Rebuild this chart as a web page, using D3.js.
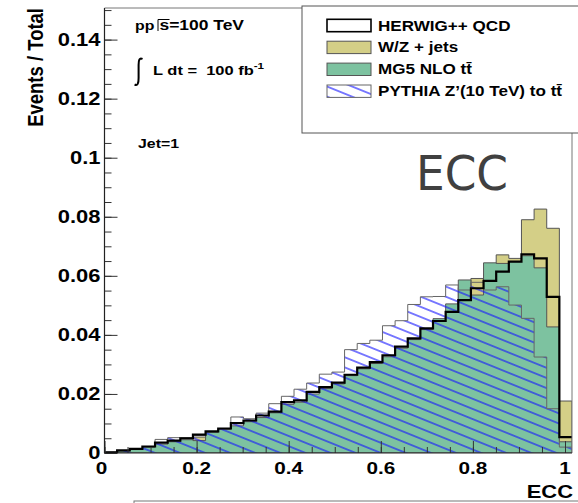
<!DOCTYPE html>
<html>
<head>
<meta charset="utf-8">
<script src="https://cdn.jsdelivr.net/npm/d3@7"></script>
<style>
  html, body { margin: 0; padding: 0; background: #fff; }
  svg { display: block; }
</style>
</head>
<body>
<script>
// ECC distributions, normalised to unit area (37 equal bins from 0 to the axis end)
const xAxisMax = 1.0152;
const yAxisMax = 0.1507;

const qcdValues = [0.0002, 0.0009, 0.0014, 0.0022, 0.0035, 0.0042, 0.0050, 0.0062, 0.0073, 0.0083,
                   0.0101, 0.0110, 0.0127, 0.0140, 0.0172, 0.0178, 0.0207, 0.0223, 0.0238, 0.0265,
                   0.0289, 0.0308, 0.0331, 0.0360, 0.0388, 0.0422, 0.0447, 0.0478, 0.0518, 0.0558,
                   0.0583, 0.0614, 0.0648, 0.0673, 0.0659, 0.0529, 0.0054];
const wzValues = [0.0001, 0.0005, 0.0010, 0.0017, 0.0025, 0.0032, 0.0038, 0.0054, 0.0058, 0.0066,
                  0.0076, 0.0088, 0.0098, 0.0110, 0.0135, 0.0145, 0.0168, 0.0182, 0.0200, 0.0222,
                  0.0245, 0.0268, 0.0290, 0.0315, 0.0345, 0.0378, 0.0415, 0.0465, 0.0560, 0.0591,
                  0.0605, 0.0671, 0.0659, 0.0790, 0.0826, 0.0761, 0.0176];
const ttbarValues = [0.0002, 0.0007, 0.0012, 0.0020, 0.0030, 0.0038, 0.0045, 0.0042, 0.0070, 0.0080,
                     0.0092, 0.0106, 0.0120, 0.0136, 0.0165, 0.0172, 0.0200, 0.0218, 0.0234, 0.0262,
                     0.0285, 0.0303, 0.0326, 0.0355, 0.0384, 0.0418, 0.0455, 0.0505, 0.0586, 0.0535,
                     0.0644, 0.0642, 0.0648, 0.0668, 0.0627, 0.0427, 0.0038];
const zprimeValues = [0.0003, 0.0008, 0.0013, 0.0022, 0.0046, 0.0052, 0.0052, 0.0060, 0.0072, 0.0082,
                      0.0122, 0.0116, 0.0135, 0.0167, 0.0192, 0.0216, 0.0237, 0.0267, 0.0274, 0.0350,
                      0.0371, 0.0382, 0.0431, 0.0448, 0.0503, 0.0529, 0.0530, 0.0569, 0.0552, 0.0578,
                      0.0552, 0.0563, 0.0501, 0.0456, 0.0325, 0.0150, 0.0020];

const yTickValues = [0, 0.02, 0.04, 0.06, 0.08, 0.1, 0.12, 0.14];
const yTickLabels = ["0", "0.02", "0.04", "0.06", "0.08", "0.1", "0.12", "0.14"];
const xTickValues = [0, 0.2, 0.4, 0.6, 0.8, 1];
const xTickLabels = ["0", "0.2", "0.4", "0.6", "0.8", "1"];
const yMinorStep = 0.005;
const xMinorStep = 0.05;

const legendLabels = ["HERWIG++ QCD", "W/Z + jets", "MG5 NLO t", "PYTHIA Z\u2019(10 TeV) to t"];

// ---------------------------------------------------------------------------
const W = 578, H = 503;
const frame = { left: 104.5, right: 572, top: 8, bottom: 453 };
const STRETCH = 1.22;               // ROOT text is drawn horizontally widened
const ROOT_FONT = "'Liberation Sans', Arial, Helvetica, sans-serif";

const colWZ = "#d4cf87";
const colTT = "#7dc2a0";
const colHatch = "#1414ff";
const colEdge = "#555";

const svg = d3.select("body").append("svg").attr("width", W).attr("height", H);

const x = d3.scaleLinear().domain([0, xAxisMax]).range([frame.left, frame.right]);
const y = d3.scaleLinear().domain([0, yAxisMax]).range([frame.bottom, frame.top]);

const nBins = qcdValues.length;
const binEdges = d3.range(nBins + 1).map(i => i * xAxisMax / nBins);

const defs = svg.append("defs");
defs.append("clipPath").attr("id", "plotClip")
  .append("rect")
  .attr("x", frame.left).attr("y", frame.top)
  .attr("width", frame.right - frame.left).attr("height", frame.bottom - frame.top);

// diagonal "\\\\" hatch used for the Z' sample
const hatch = defs.append("pattern")
  .attr("id", "hatch")
  .attr("patternUnits", "userSpaceOnUse")
  .attr("width", 24).attr("height", 9.4)
  .attr("patternTransform", "rotate(22)");
hatch.append("line")
  .attr("x1", -2).attr("x2", 26).attr("y1", 4.7).attr("y2", 4.7)
  .attr("stroke", colHatch).attr("stroke-width", 1.1);

const line = d3.line().x(d => x(d[0])).y(d => y(d[1]));

function stepPoints(vals, closed) {
  const pts = [[binEdges[0], 0]];
  vals.forEach((v, i) => { pts.push([binEdges[i], v]); pts.push([binEdges[i + 1], v]); });
  if (closed) pts.push([binEdges[nBins], 0]);
  return pts;
}

const plot = svg.append("g").attr("clip-path", "url(#plotClip)");

// W/Z + jets
plot.append("path").attr("d", line(stepPoints(wzValues, true)) + "Z")
  .attr("fill", colWZ).attr("stroke", colEdge).attr("stroke-width", 1);
// MG5 NLO ttbar
plot.append("path").attr("d", line(stepPoints(ttbarValues, true)) + "Z")
  .attr("fill", colTT).attr("stroke", colEdge).attr("stroke-width", 1);
// PYTHIA Z'
plot.append("path").attr("d", line(stepPoints(zprimeValues, true)) + "Z")
  .attr("fill", "url(#hatch)").attr("stroke", "#666").attr("stroke-width", 1);
// HERWIG++ QCD outline
plot.append("path").attr("d", line(stepPoints(qcdValues, false)))
  .attr("fill", "none").attr("stroke", "#000").attr("stroke-width", 2.2);

// ---------------------------------------------------------------------------
// frame and ticks
svg.append("line").attr("x1", frame.left).attr("x2", frame.right)
  .attr("y1", frame.top).attr("y2", frame.top).attr("stroke", "#777").attr("stroke-width", 1);
svg.append("line").attr("x1", frame.right).attr("x2", frame.right)
  .attr("y1", frame.top).attr("y2", frame.bottom).attr("stroke", "#777").attr("stroke-width", 1);

const yMinor = d3.range(0, yAxisMax + 1e-9, yMinorStep);
const xMinor = d3.range(0, xAxisMax + 1e-9, xMinorStep);

function tickGroup(axis) {
  return g => {
    g.call(axis);
    g.select(".domain").remove();
    g.selectAll(".tick line").attr("stroke", "#333").attr("stroke-width", 1);
  };
}
svg.append("g").attr("transform", `translate(${frame.left},0)`)
  .call(tickGroup(d3.axisRight(y).tickValues(yMinor).tickSize(7).tickFormat("")));
svg.append("g").attr("transform", `translate(${frame.left},0)`)
  .call(tickGroup(d3.axisRight(y).tickValues(yTickValues).tickSize(13).tickFormat("")));
svg.append("g").attr("transform", `translate(0,${frame.bottom})`)
  .call(tickGroup(d3.axisTop(x).tickValues(xMinor).tickSize(6).tickFormat("")));
svg.append("g").attr("transform", `translate(0,${frame.bottom})`)
  .call(tickGroup(d3.axisTop(x).tickValues(xTickValues).tickSize(12).tickFormat("")));

svg.append("line").attr("x1", frame.left).attr("x2", frame.left)
  .attr("y1", frame.top).attr("y2", frame.bottom).attr("stroke", "#222").attr("stroke-width", 1.2);
svg.append("line").attr("x1", frame.left).attr("x2", frame.right)
  .attr("y1", frame.bottom).attr("y2", frame.bottom).attr("stroke", "#222").attr("stroke-width", 1.2);

function rootText(parent, px, py, str, size, anchor) {
  return parent.append("text")
    .attr("transform", `translate(${px},${py}) scale(${STRETCH},1)`)
    .attr("text-anchor", anchor || "start")
    .attr("font-family", ROOT_FONT)
    .attr("font-weight", "bold")
    .attr("font-size", size)
    .attr("fill", "#000")
    .style("white-space", "pre")
    .text(str);
}

yTickValues.forEach((v, i) => rootText(svg, 100.5, y(v) + 6.3, yTickLabels[i], 18, "end"));
xTickValues.forEach((v, i) => rootText(svg, x(v) - (i === 0 ? 3 : 0), 474, xTickLabels[i], 17, "middle"));

// axis titles
svg.append("text")
  .attr("transform", `translate(43,8) scale(${STRETCH},1) rotate(-90)`)
  .attr("text-anchor", "end")
  .attr("font-family", ROOT_FONT).attr("font-weight", "bold").attr("font-size", 18.5)
  .text("Events / Total");
rootText(svg, 573, 498, "ECC", 18, "end");

// lower panel edge
svg.append("rect").attr("x", 134).attr("y", 501).attr("width", 450).attr("height", 20)
  .attr("fill", "none").attr("stroke", "#777").attr("stroke-width", 1);

// ---------------------------------------------------------------------------
// annotations
rootText(svg, 135, 30, "pp", 13);
svg.append("path").attr("d", "M158,31 L158,19.5 L169.5,19.5")
  .attr("fill", "none").attr("stroke", "#000").attr("stroke-width", 1);
rootText(svg, 159.5, 30, "s=100 TeV", 14.3);

svg.append("path")
  .attr("d", "M142.5,59 C139.5,57.5 138.6,60 138.6,65 L138.6,78 C138.6,83.5 137.6,86 134.6,84.5")
  .attr("fill", "none").attr("stroke", "#000").attr("stroke-width", 2);
const lum = rootText(svg, 153, 75, "L dt =\u00a0\u00a0100 fb", 13.5);
lum.append("tspan").attr("font-size", 9.5).attr("dy", -6).text("-1");

rootText(svg, 138, 148, "Jet=1", 13);

// big variable label
svg.append("text")
  .attr("x", 416).attr("y", 190)
  .attr("font-family", "'DejaVu Sans', sans-serif")
  .attr("font-size", 48)
  .attr("fill", "#404040")
  .attr("textLength", 92).attr("lengthAdjust", "spacingAndGlyphs")
  .text("ECC");

// ---------------------------------------------------------------------------
// legend
const leg = svg.append("g");
leg.append("rect").attr("x", 302).attr("y", 6).attr("width", 300).attr("height", 127)
  .attr("fill", "#fff").attr("stroke", "#555").attr("stroke-width", 1);

const legendStyles = [
  { fill: "#fff", stroke: "#000", sw: 1.6 },
  { fill: colWZ, stroke: colEdge, sw: 1 },
  { fill: colTT, stroke: colEdge, sw: 1 },
  { fill: "url(#hatch)", stroke: "#666", sw: 1 }
];
legendLabels.forEach((lab, i) => {
  const cy = 25.5 + i * 21.9;
  const st = legendStyles[i];
  leg.append("rect").attr("x", 327).attr("y", cy - 6.2).attr("width", 44).attr("height", 12.4)
    .attr("fill", st.fill).attr("stroke", st.stroke).attr("stroke-width", st.sw);
  const t = rootText(leg, 378, cy + 5, lab, 14);
  if (i >= 2) t.append("tspan").text("t\u0304");
});
</script>
</body>
</html>
